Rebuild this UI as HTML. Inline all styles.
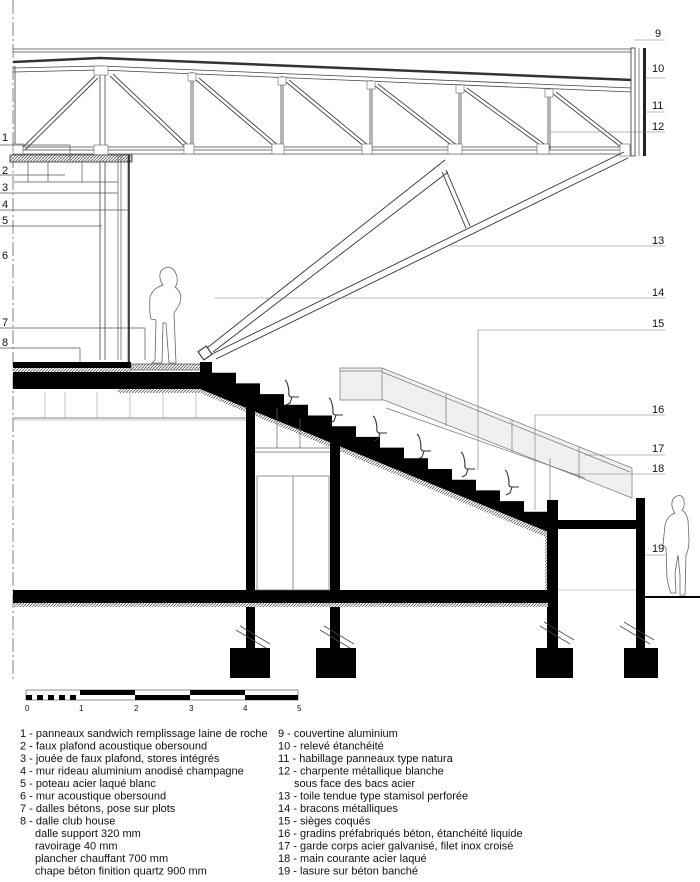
<!DOCTYPE html>
<html><head><meta charset="utf-8"><style>
body{margin:0;background:#fff;width:700px;height:882px;overflow:hidden}
svg{display:block}
text{font-family:"Liberation Sans",Arial,sans-serif;fill:#111}
.lg{font-size:11px}
.n{font-size:11px}
</style></head><body>
<svg width="700" height="882" viewBox="0 0 700 882" xmlns="http://www.w3.org/2000/svg">
<defs>
<pattern id="h" width="3" height="3" patternUnits="userSpaceOnUse"><rect width="3" height="3" fill="#fff"/><path d="M0 3L3 0" stroke="#555" stroke-width="0.8"/></pattern>
</defs>
<line x1="13" y1="0" x2="13" y2="680" stroke="#666" stroke-width="0.8" stroke-dasharray="14 3 2 3"/>

<g stroke="#444" fill="none" stroke-width="0.8">
<line x1="13" y1="49" x2="632" y2="49"/>
<line x1="13" y1="52" x2="632" y2="52"/>
<path d="M13 62 L100 58 L632 80" stroke="#333" stroke-width="2.5"/>
<path d="M13 68 L100 66 L632 88"/>
<path d="M13 72 L100 70 L632 92"/>
<line x1="13" y1="147" x2="632" y2="147"/>
<line x1="13" y1="150" x2="632" y2="150"/>
<line x1="13" y1="154" x2="632" y2="154"/>
<line x1="15" y1="66" x2="15" y2="150"/>
<line x1="100" y1="70" x2="100" y2="360"/><line x1="105" y1="70" x2="105" y2="360"/>
<line x1="191" y1="72" x2="191" y2="150"/><line x1="193" y1="72" x2="193" y2="150"/>
<line x1="281" y1="76" x2="281" y2="150"/><line x1="283" y1="76" x2="283" y2="150"/>
<line x1="370" y1="80" x2="370" y2="150"/><line x1="372" y1="80" x2="372" y2="150"/>
<line x1="459" y1="84" x2="459" y2="150"/><line x1="461" y1="84" x2="461" y2="150"/>
<line x1="548" y1="88" x2="548" y2="150"/><line x1="550" y1="88" x2="550" y2="150"/>
<g stroke-width="0.9">
<path d="M22 148 L95 76 M25 150 L98 78"/>
<path d="M110 76 L186 148 M113 74 L189 146"/>
<path d="M196 80 L276 148 M199 78 L279 146"/>
<path d="M286 82 L366 148 M289 80 L369 146"/>
<path d="M375 86 L455 148 M378 84 L458 146"/>
<path d="M464 90 L544 148 M467 88 L547 146"/>
<path d="M553 94 L622 148 M556 92 L625 146"/>
</g>
</g>
<g fill="#fff" stroke="#666" stroke-width="0.6">
<rect x="13" y="144" width="10" height="10"/><rect x="94" y="66" width="14" height="9"/><rect x="94" y="145" width="14" height="10"/>
<rect x="184" y="144" width="10" height="10"/><rect x="188" y="73" width="8" height="8"/>
<rect x="272" y="144" width="12" height="10"/><rect x="278" y="77" width="8" height="8"/>
<rect x="362" y="144" width="10" height="10"/><rect x="367" y="81" width="8" height="8"/>
<rect x="448" y="144" width="14" height="10"/><rect x="456" y="85" width="8" height="8"/>
<rect x="537" y="144" width="12" height="10"/><rect x="545" y="89" width="8" height="8"/>
<rect x="620" y="144" width="10" height="12"/>
</g>
<rect x="631" y="48" width="4" height="108" fill="#fff" stroke="#333" stroke-width="0.8"/>
<rect x="643" y="48" width="3" height="108" fill="#222"/>
<line x1="639" y1="48" x2="639" y2="156" stroke="#555" stroke-width="0.7"/>

<g stroke="#333" fill="none" stroke-width="0.9">
<path d="M207 348 L445 160"/><path d="M213 352 L448 172"/>
<path d="M212 354 L624 152"/><path d="M216 359 L628 158"/>
<path d="M442 172 L466 228 M446 170 L470 226"/>
</g>
<rect x="200" y="348" width="10" height="10" fill="#fff" stroke="#222" transform="rotate(-35 205 353)"/>

<rect x="10" y="155" width="122" height="7" fill="url(#h)" stroke="#333" stroke-width="0.8"/>
<g stroke="#555" stroke-width="0.7" fill="none">
<line x1="14" y1="182" x2="118" y2="182"/>
<line x1="28" y1="162" x2="28" y2="182"/><line x1="48" y1="162" x2="48" y2="182"/><line x1="82" y1="162" x2="82" y2="182"/>
<line x1="0" y1="145" x2="70" y2="145"/><line x1="70" y1="145" x2="70" y2="160"/>
<line x1="0" y1="175" x2="65" y2="175"/><line x1="0" y1="193" x2="118" y2="193"/>
<line x1="0" y1="210" x2="128" y2="210"/><line x1="0" y1="226" x2="102" y2="226"/>
<line x1="0" y1="328" x2="145" y2="328"/><line x1="145" y1="328" x2="145" y2="360"/>
<line x1="0" y1="348" x2="80" y2="348"/><line x1="80" y1="348" x2="80" y2="362"/>
<line x1="118" y1="155" x2="118" y2="360"/><line x1="121" y1="155" x2="121" y2="360"/>
<line x1="128" y1="155" x2="128" y2="362"/>
</g>
<line x1="129" y1="155" x2="129" y2="362" stroke="#222" stroke-width="1.5"/>

<path d="M165 268 q-6 2 -5 10 q1 5 3 7 q-10 3 -13 12 q-1 14 1 22 l5 1 l-1 40 l-3 3 l10 0 l1 -40 l3 0 l3 40 l7 0 l-2 -50 q3 -4 6 -10 q3 -10 -5 -16 q3 -3 2 -10 q-3 -12 -12 -9z" fill="#fff" stroke="#666" stroke-width="0.8"/>
<path d="M677 496 q-6 2 -5 10 q1 5 3 7 q-8 3 -10 12 l-2 20 l3 3 l1 30 l2 10 l2 5 l5 0 l-1 -20 l3 -18 l2 20 l0 20 l5 0 l1 -40 q3 -6 3 -15 l-1 -20 q-2 -8 -6 -10 q3 -3 2 -10 q-2 -6 -7 -4z" fill="#fff" stroke="#666" stroke-width="0.8"/>

<rect x="13" y="362" width="118" height="6" fill="#000"/>
<rect x="13" y="368" width="118" height="4" fill="url(#h)"/>
<rect x="131" y="364" width="70" height="6" fill="url(#h)" stroke="#333" stroke-width="0.6"/>
<rect x="13" y="372" width="190" height="17" fill="#000"/>
<rect x="118" y="389" width="82" height="4" fill="url(#h)"/>
<line x1="13" y1="418" x2="246" y2="418" stroke="#555" stroke-width="0.8"/>
<line x1="13" y1="420" x2="246" y2="420" stroke="#888" stroke-width="0.5"/>
<g stroke="#888" stroke-width="0.5"><line x1="45" y1="392" x2="45" y2="418"/><line x1="65" y1="392" x2="65" y2="418"/><line x1="97" y1="392" x2="97" y2="418"/><line x1="130" y1="392" x2="130" y2="418"/><line x1="163" y1="392" x2="163" y2="418"/><line x1="196" y1="392" x2="196" y2="418"/></g>

<path d="M200 362 L212 362 L212 372.7 L236 372.7 L236 383.4 L260 383.4 L260 394.1 L284 394.1 L284 404.8 L308 404.8 L308 415.5 L332 415.5 L332 426.2 L356 426.2 L356 436.9 L380 436.9 L380 447.6 L404 447.6 L404 458.3 L428 458.3 L428 469 L452 469 L452 479.7 L476 479.7 L476 490.4 L500 490.4 L500 501.1 L524 501.1 L524 511.8 L548 511.8 L548 532 L200 389 Z" fill="#000"/>
<path d="M200 389 L548 532 L548 538 L200 393 Z" fill="url(#h)"/>
<rect x="545" y="534" width="4" height="66" fill="url(#h)"/>

<g fill="none" stroke="#333" stroke-width="1.1">
<path d="M285 380 q3 2 4 12 q-1 4 2 5 l8 0 M292 397 l-2 6 l-4 2"/>
<path d="M329 398 q3 2 4 12 q-1 4 2 5 l8 0 M336 415 l-2 6 l-4 2"/>
<path d="M373 416 q3 2 4 12 q-1 4 2 5 l8 0 M380 433 l-2 6 l-4 2"/>
<path d="M417 434 q3 2 4 12 q-1 4 2 5 l8 0 M424 451 l-2 6 l-4 2"/>
<path d="M461 452 q3 2 4 12 q-1 4 2 5 l8 0 M468 469 l-2 6 l-4 2"/>
<path d="M505 470 q3 2 4 12 q-1 4 2 5 l8 0 M512 487 l-2 6 l-4 2"/>
</g>

<path d="M340 368 L382 368 L632 468 L632 498 L384 400 L340 400Z" fill="#f0f0f0" stroke="#777" stroke-width="0.7"/>
<g stroke="#777" stroke-width="0.7" fill="none">
<line x1="340" y1="371" x2="382" y2="371"/><line x1="382" y1="372" x2="630" y2="472"/>
<line x1="382" y1="368" x2="382" y2="400"/>
<line x1="446" y1="394" x2="446" y2="426"/><line x1="512" y1="420" x2="512" y2="452"/><line x1="579" y1="447" x2="579" y2="479"/>
<line x1="386" y1="408" x2="585" y2="478"/>
<line x1="550" y1="458" x2="550" y2="510"/>
</g>

<g fill="#000">
<rect x="246" y="396" width="9" height="252"/>
<rect x="330" y="430" width="10" height="218"/>
<rect x="547" y="500" width="11" height="148"/>
<rect x="636" y="498" width="9" height="150"/>
<rect x="558" y="520" width="78" height="9"/>
<rect x="13" y="590" width="535" height="13"/>
<rect x="230" y="648" width="40" height="30"/>
<rect x="316" y="648" width="40" height="30"/>
<rect x="536" y="648" width="37" height="30"/>
<rect x="624" y="648" width="34" height="30"/>
</g>
<rect x="13" y="603" width="535" height="4" fill="url(#h)"/>
<line x1="645" y1="597" x2="700" y2="597" stroke="#000" stroke-width="2"/>
<line x1="558" y1="590" x2="636" y2="590" stroke="#999" stroke-width="0.6"/>
<g stroke="#666" stroke-width="0.7" fill="none">
<line x1="255" y1="448" x2="330" y2="448"/><line x1="255" y1="452" x2="330" y2="452"/>
<rect x="257" y="476" width="72" height="114"/><line x1="293" y1="476" x2="293" y2="590"/>
<line x1="277" y1="408" x2="277" y2="448"/><line x1="300" y1="418" x2="300" y2="448"/>
</g>
<g stroke="#444" stroke-width="0.8">
<path d="M236 630 l30 18 M240 626 l30 18"/><path d="M320 630 l30 18 M324 626 l30 18"/>
<path d="M540 626 l30 18 M544 622 l30 18"/><path d="M620 626 l30 18 M624 622 l30 18"/>
</g>

<g stroke="#777" stroke-width="0.6" fill="none">
<line x1="634" y1="40" x2="665" y2="40"/><line x1="645" y1="78" x2="665" y2="78"/>
<line x1="645" y1="112" x2="665" y2="112"/><line x1="550" y1="132" x2="665" y2="132"/>
<line x1="450" y1="246" x2="665" y2="246"/><line x1="215" y1="298" x2="665" y2="298"/>
<line x1="478" y1="330" x2="665" y2="330"/><line x1="478" y1="330" x2="478" y2="470"/>
<line x1="535" y1="415" x2="665" y2="415"/><line x1="535" y1="415" x2="535" y2="510"/>
<line x1="585" y1="455" x2="665" y2="455"/><line x1="570" y1="474" x2="665" y2="474"/>
<line x1="645" y1="555" x2="665" y2="555"/>
</g>
<g class="n">
<text x="655" y="37">9</text><text x="652" y="72">10</text><text x="652" y="109">11</text><text x="652" y="130">12</text>
<text x="652" y="244">13</text><text x="652" y="296">14</text><text x="652" y="327">15</text><text x="652" y="413">16</text>
<text x="652" y="452">17</text><text x="652" y="472">18</text><text x="652" y="552">19</text>
<text x="2" y="141">1</text><text x="2" y="174">2</text><text x="2" y="191">3</text><text x="2" y="208">4</text>
<text x="2" y="224">5</text><text x="2" y="259">6</text><text x="2" y="326">7</text><text x="2" y="346">8</text>
</g>

<g>
<rect x="26" y="690" width="272" height="10" fill="none" stroke="#444" stroke-width="0.6"/>
<rect x="80" y="690" width="55" height="5" fill="#000"/><rect x="135" y="695" width="55" height="5" fill="#000"/>
<rect x="190" y="690" width="55" height="5" fill="#000"/><rect x="245" y="695" width="53" height="5" fill="#000"/>
<rect x="26" y="695" width="6" height="5" fill="#000"/><rect x="37" y="695" width="6" height="5" fill="#000"/><rect x="48" y="695" width="6" height="5" fill="#000"/><rect x="59" y="695" width="6" height="5" fill="#000"/><rect x="70" y="695" width="6" height="5" fill="#000"/>
<g style="font-size:8px"><text x="25" y="711">0</text><text x="79" y="711">1</text><text x="134" y="711">2</text><text x="189" y="711">3</text><text x="243" y="711">4</text><text x="297" y="711">5</text></g>
</g>

<g class="lg">
<text x="20" y="737">1 - panneaux sandwich remplissage laine de roche</text>
<text x="20" y="749.5">2 - faux plafond acoustique obersound</text>
<text x="20" y="762">3 - jouée de faux plafond, stores intégrés</text>
<text x="20" y="774.5">4 - mur rideau aluminium anodisé champagne</text>
<text x="20" y="787">5 - poteau acier laqué blanc</text>
<text x="20" y="799.5">6 - mur acoustique obersound</text>
<text x="20" y="812">7 - dalles bétons, pose sur plots</text>
<text x="20" y="824.5">8 - dalle club house</text>
<text x="35" y="837">dalle support 320 mm</text>
<text x="35" y="849.5">ravoirage 40 mm</text>
<text x="35" y="862">plancher chauffant 700 mm</text>
<text x="35" y="874.5">chape béton finition quartz 900 mm</text>
<text x="278" y="737">9 - couvertine aluminium</text>
<text x="278" y="749.5">10 - relevé étanchéité</text>
<text x="278" y="762">11 - habillage panneaux type natura</text>
<text x="278" y="774.5">12 - charpente métallique blanche</text>
<text x="294" y="787">sous face des bacs acier</text>
<text x="278" y="799.5">13 - toile tendue type stamisol perforée</text>
<text x="278" y="812">14 - bracons métalliques</text>
<text x="278" y="824.5">15 - sièges coqués</text>
<text x="278" y="837">16 - gradins préfabriqués béton, étanchéité liquide</text>
<text x="278" y="849.5">17 - garde corps acier galvanisé, filet inox croisé</text>
<text x="278" y="862">18 - main courante acier laqué</text>
<text x="278" y="874.5">19 - lasure sur béton banché</text>
</g>
</svg>
</body></html>
